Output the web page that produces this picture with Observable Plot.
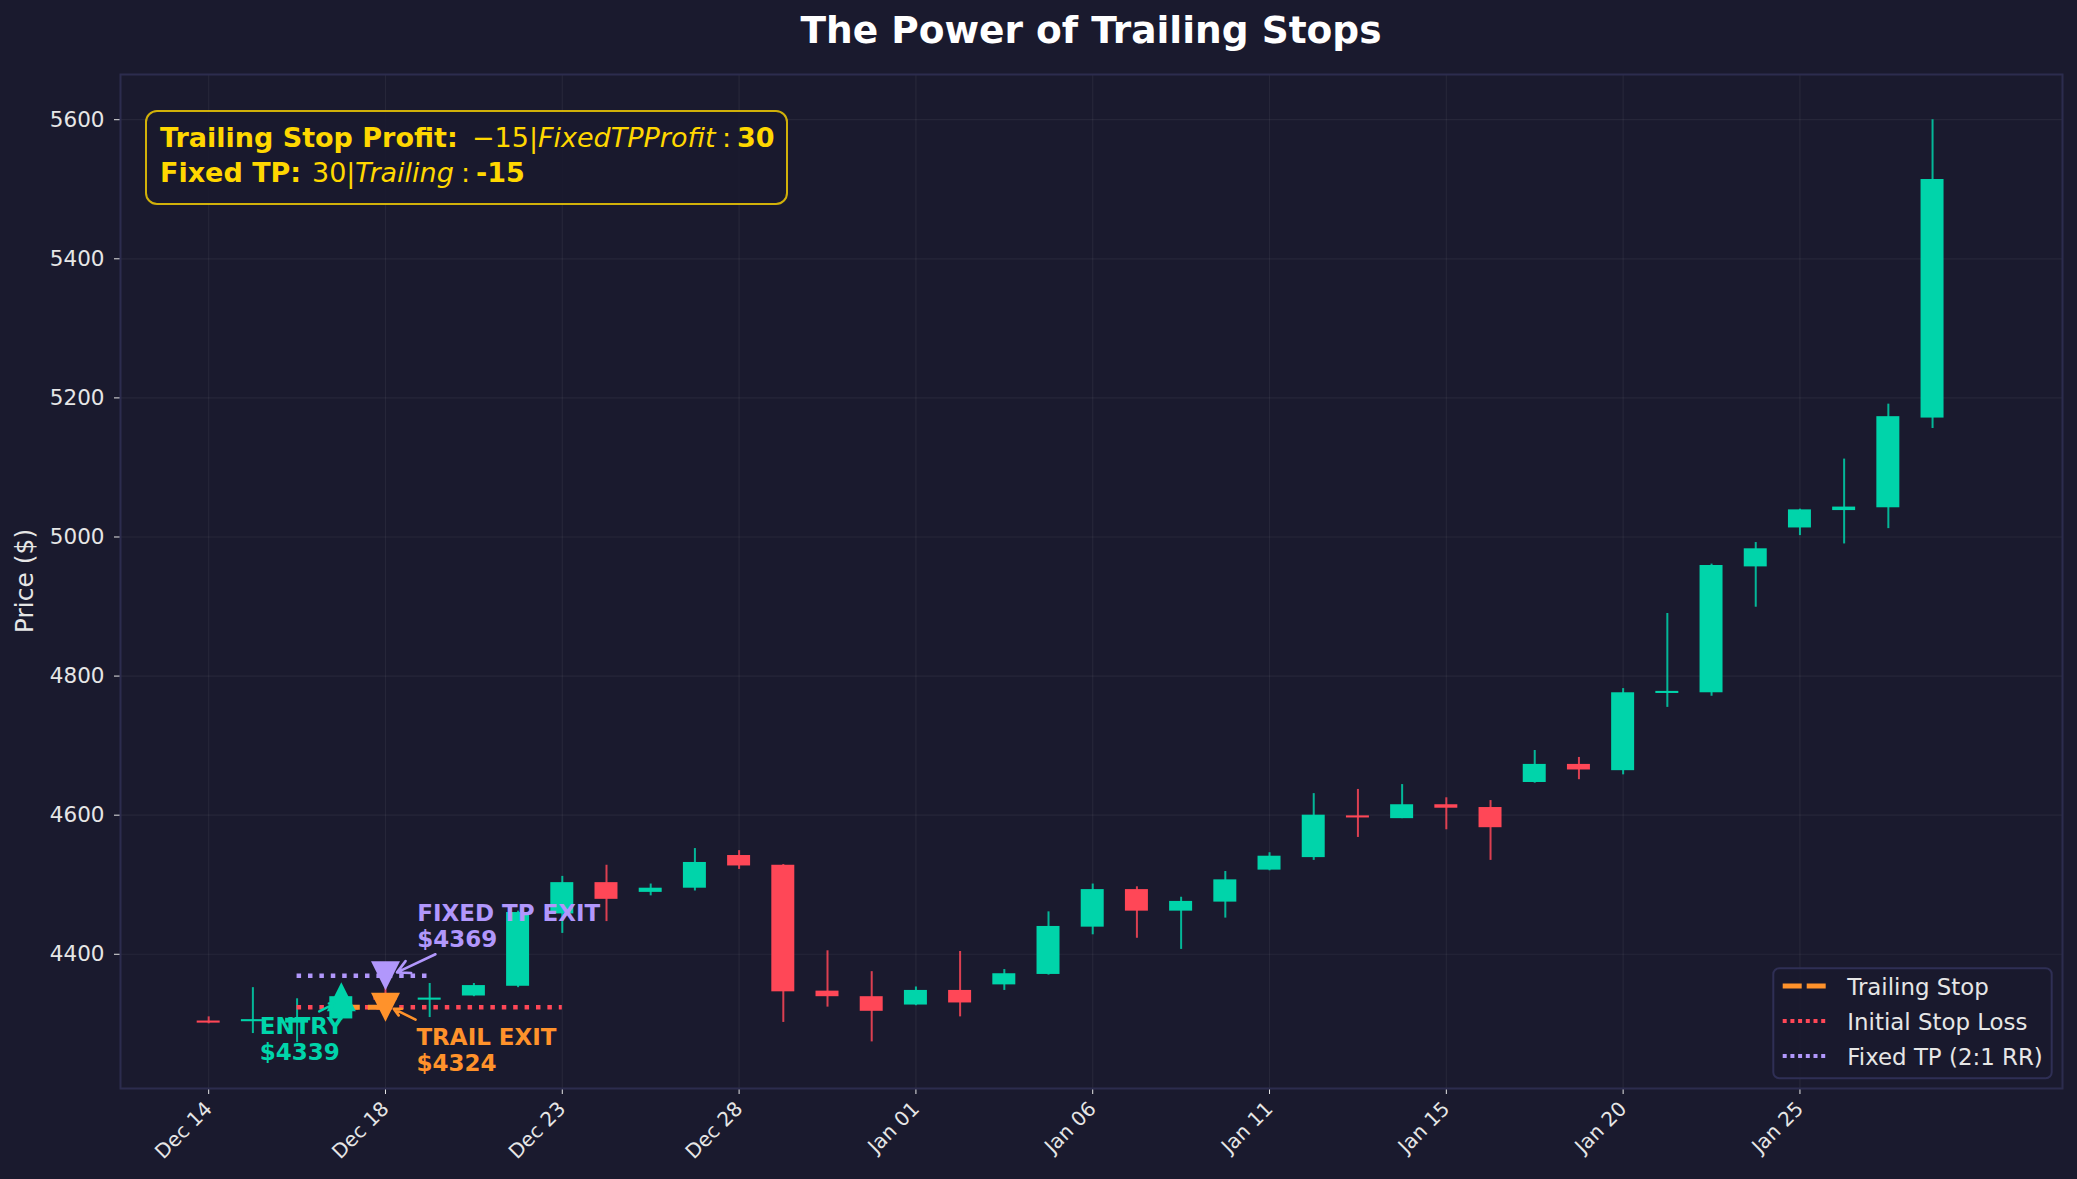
<!DOCTYPE html>
<html><head><meta charset="utf-8">
<script src="https://cdn.jsdelivr.net/npm/d3@7"></script>
<script src="https://cdn.jsdelivr.net/npm/@observablehq/plot@0.6"></script>
<style>
html,body{margin:0;padding:0;background:#1a1a2e;}
#chart{width:2077px;height:1179px;}
</style></head><body><div id="chart"></div>
<script>
// ---- data ----
const candleIndex = d3.range(40);
const opens  = [4304,4303,4301,4307,4340,4334,4340,4354,4458,4503,4489,4495,4542,4528,4347,4339,4327,4348,4356,4371,4439,4493,4462,4475,4521,4539,4599,4595,4615,4611,4647,4673,4664,4775,4776,4957,5013,5038,5042,5171];
const highs  = [4310,4352,4336,4345,4368,4358,4358,4462,4512,4528,4501,4552,4549,4529,4405,4375,4353,4404,4378,4461,4501,4497,4482,4519,4546,4631,4637,4644,4625,4621,4693,4683,4782,4890,4961,4992,5040,5112,5191,5600];
const lows   = [4300,4286,4273,4305,4322,4309,4339,4352,4430,4447,4484,4491,4522,4302,4324,4274,4326,4310,4348,4370,4428,4423,4407,4452,4520,4535,4568,4595,4579,4535,4646,4651,4658,4755,4771,4899,5002,4990,5012,5156];
const closes = [4301,4306,4308,4339,4334,4337,4355,4460,4503,4479,4495,4532,4527,4346,4339,4318,4348,4330,4372,4440,4493,4462,4476,4507,4541,4600,4596,4615,4610,4582,4673,4665,4776,4778,4959,4983,5039,5043,5173,5514];

const tickIndex  = [0,4,8,12,16,20,24,28,32,36];
const tickLabels = ["Dec 14","Dec 18","Dec 23","Dec 28","Jan 01","Jan 06","Jan 11","Jan 15","Jan 20","Jan 25"];
const yTicks = [4400,4600,4800,5000,5200,5400,5600];

const entryIndex = 3, entryPrice = 4339;
const exitIndex = 4;
const trailExitPrice = 4324;
const stopPrice = 4324;
const tpPrice = 4369;

const levelLines = [
  {name:"Initial Stop Loss", x1: entryIndex-1, x2: entryIndex+5, y: stopPrice, color:"#ff4757"},
  {name:"Fixed TP (2:1 RR)", x1: entryIndex-1, x2: entryIndex+2, y: tpPrice, color:"#b197fc"}
];
const trailLine = [{x1: entryIndex, x2: exitIndex, y: trailExitPrice}];

const markers = [
  {x: entryIndex, y: entryPrice, kind:"up", color:"#00d4aa"},
  {x: exitIndex, y: tpPrice, kind:"down", color:"#b197fc"},
  {x: exitIndex, y: trailExitPrice, kind:"down", color:"#ff922b"}
];
const annotations = [
  {x: 1.154, y: 4312, text: "ENTRY\n$4339", color:"#00d4aa"},
  {x: 4.717, y: 4475, text: "FIXED TP EXIT\n$4369", color:"#b197fc"},
  {x: 4.70,  y: 4296, text: "TRAIL EXIT\n$4324", color:"#ff922b"}
];
const arrows = [
  {x1: 2.5, y1: 4318, x2: 2.85, y2: 4329, color:"#00d4aa"},
  {x1: 5.13, y1: 4400, x2: 4.26, y2: 4374, color:"#b197fc"},
  {x1: 4.68, y1: 4306, x2: 4.19, y2: 4321.5, color:"#ff922b"}
];

// info box text pieces: [text, weight, style, x-position in px]
const infoLines = [
  [["Trailing Stop Profit:", "bold", "normal", 160], ["\u221215|", "normal", "normal", 472], ["FixedTPProfit", "normal", "italic", 538], [":", "normal", "normal", 722], ["30", "bold", "normal", 737]],
  [["Fixed TP:", "bold", "normal", 160], ["30|", "normal", "normal", 312], ["Trailing", "normal", "italic", 355], [":", "normal", "normal", 461], ["-15", "bold", "normal", 476]]
];

const UP = "#00d4aa", DOWN = "#ff4757";
const candles = candleIndex.map(i => ({i, o: opens[i], h: highs[i], l: lows[i], c: closes[i], col: closes[i] >= opens[i] ? UP : DOWN}));

const triUp = {draw(ctx, size){const s=Math.sqrt(size/Math.PI); ctx.moveTo(0,-s); ctx.lineTo(s,s); ctx.lineTo(-s,s); ctx.closePath();}};
const triDown = {draw(ctx, size){const s=Math.sqrt(size/Math.PI); ctx.moveTo(0,s); ctx.lineTo(s,-s); ctx.lineTo(-s,-s); ctx.closePath();}};

const FONT = "DejaVu Sans";
const TXT = "#e6e6e6";

const plot = Plot.plot({
  width: 2077, height: 1179,
  marginLeft: 120, marginRight: 15, marginTop: 74, marginBottom: 91,
  style: {background: "#1a1a2e", fontFamily: FONT, color: TXT},
  x: {type: "linear", domain: [-1.995, 41.94]},
  y: {domain: [4207, 5665]},
  color: {type: "identity"},
  marks: [
    Plot.gridX(tickIndex, {stroke: "#ffffff", strokeOpacity: 0.055, strokeWidth: 1.2}),
    Plot.gridY(yTicks, {stroke: "#ffffff", strokeOpacity: 0.055, strokeWidth: 1.2}),
    Plot.ruleX(candles, {x: "i", y1: "l", y2: "h", stroke: "col", strokeWidth: 2, strokeOpacity: 0.85}),
    Plot.rect(candles, {x1: d => d.i - 0.26, x2: d => d.i + 0.26, y1: d => Math.min(d.o, d.c), y2: d => Math.max(d.o, d.c), fill: "col"}),
    Plot.ruleY(levelLines, {x1: "x1", x2: "x2", y: "y", stroke: "color", strokeWidth: 4.5, strokeDasharray: "4.5,6.9"}),
    Plot.ruleY(trailLine, {x1: "x1", x2: "x2", y: "y", stroke: "#ff922b", strokeWidth: 5, strokeDasharray: "19,8"}),
    Plot.dot(markers.filter(d => d.kind === "up"), {x: "x", y: "y", fill: "color", r: 14.5, symbol: triUp}),
    Plot.dot(markers.filter(d => d.kind === "down"), {x: "x", y: "y", fill: "color", r: 14.5, symbol: triDown}),
    Plot.arrow(arrows, {x1: "x1", y1: "y1", x2: "x2", y2: "y2", stroke: "color", strokeWidth: 2.6, headLength: 13, headAngle: 55}),
    Plot.text(annotations, {x: "x", y: "y", text: "text", fill: "color", fontSize: 23, fontWeight: "bold", textAnchor: "start", lineAnchor: "top", lineHeight: 1.13}),
    Plot.axisY({ticks: yTicks, tickFormat: d => String(d), tickSize: 6, tickPadding: 10, fontSize: 21.5, color: TXT, label: null}),
    Plot.axisX({ticks: tickIndex, tickFormat: v => tickLabels[tickIndex.indexOf(v)], tickRotate: -45, tickSize: 6, tickPadding: 11, fontSize: 20, color: TXT, label: null}),
    Plot.frame({stroke: "#2c2c4e", strokeWidth: 2})
  ]
});

document.getElementById("chart").appendChild(plot);

// ---- overlays: title, y label, info box, legend ----
const svg = d3.select(plot);
svg.append("text").attr("x", 1091).attr("y", 43.3).attr("text-anchor", "middle")
  .attr("font-family", FONT).attr("font-weight", "bold").attr("font-size", 37.5).attr("fill", "#ffffff")
  .text("The Power of Trailing Stops");

svg.append("text").attr("transform", "translate(33,581) rotate(-90)").attr("text-anchor", "middle")
  .attr("font-family", FONT).attr("font-size", 25).attr("fill", TXT).text("Price ($)");

// info box
const box = svg.append("g");
box.append("rect").attr("x", 146).attr("y", 111).attr("width", 641).attr("height", 93).attr("rx", 11)
  .attr("fill", "#1a1a2e").attr("fill-opacity", 0.9).attr("stroke", "#ffd700").attr("stroke-opacity", 0.8).attr("stroke-width", 2);
infoLines.forEach((parts, k) => {
  const t = box.append("text").attr("y", 146.7 + k * 35).attr("text-anchor", "start").attr("font-family", FONT)
    .attr("font-size", 27).attr("fill", "#ffd700");
  parts.forEach(([s, w, st, px]) => t.append("tspan").attr("x", px).attr("font-weight", w).attr("font-style", st).text(s));
});

// legend
const legendItems = [
  {label: "Trailing Stop", color: "#ff922b", dash: "19,5", width: 5},
  {label: "Initial Stop Loss", color: "#ff4757", dash: "4,3.7", width: 4},
  {label: "Fixed TP (2:1 RR)", color: "#b197fc", dash: "4,3.7", width: 4}
];
const lg = svg.append("g");
lg.append("rect").attr("x", 1773.3).attr("y", 968.3).attr("width", 278.4).attr("height", 110).attr("rx", 6)
  .attr("fill", "#1a1a2e").attr("fill-opacity", 0.9).attr("stroke", "#2f2f55").attr("stroke-width", 2);
legendItems.forEach((d, k) => {
  const cy = 986 + k * 35;
  lg.append("line").attr("x1", 1782.7).attr("x2", 1828.3).attr("y1", cy).attr("y2", cy)
    .attr("stroke", d.color).attr("stroke-width", d.width).attr("stroke-dasharray", d.dash);
  lg.append("text").attr("x", 1847.3).attr("y", cy + 9).attr("text-anchor", "start").attr("font-family", FONT).attr("font-size", 22.9)
    .attr("fill", TXT).text(d.label);
});
</script></body></html>
